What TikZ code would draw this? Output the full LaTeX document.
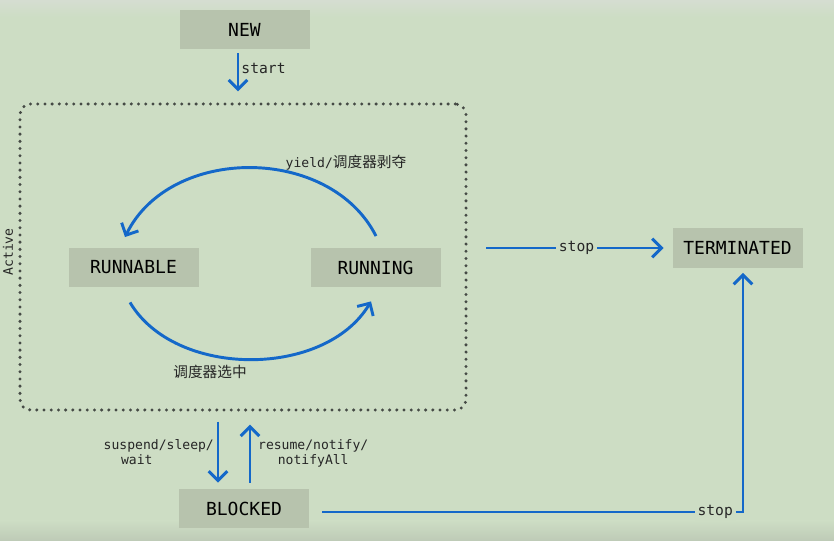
\documentclass[tikz,border=0pt]{standalone}
\usepackage{fontspec}
\setmonofont{DejaVu Sans Mono}
\newfontfamily\cjk{Noto Sans CJK SC}
\usetikzlibrary{arrows.meta}
\definecolor{bgreen}{HTML}{CDDDC4}
\definecolor{boxgray}{HTML}{B7C3AD}
\definecolor{flowblue}{HTML}{1468C9}
\definecolor{dotgray}{HTML}{454A45}
\begin{document}
\begin{tikzpicture}
    [x=0.75pt, y=0.75pt,
     state/.style={fill=boxgray, minimum width=97.5pt, minimum height=29.5pt, inner sep=0pt,
       font=\ttfamily\fontsize{13.5}{16}\selectfont},
     flow/.style={draw=flowblue, line width=2.2pt, -{Straight Barb[length=7pt,width=14pt]}},
     lbl/.style={font=\ttfamily\fontsize{9.8}{11.5}\selectfont, inner sep=2pt, text=black!85},
     stoplbl/.style={lbl, font=\ttfamily\fontsize{11}{13}\selectfont, fill=bgreen}]

    % background:
    \useasboundingbox (0,0) rectangle (834,541);
    \fill [bgreen] (0,0) rectangle (834,541);
    \shade [top color=bgreen!75!gray!60!white, bottom color=bgreen] (0,524) rectangle (834,541);
    \shade [top color=bgreen, bottom color=bgreen!80!gray] (0,0) rectangle (834,20);

    % active region:
    \node (active) at (243, 284) [draw=dotgray, line width=2.5pt, dash pattern=on 0pt off 5.4pt,
      line cap=round, rounded corners=8pt, minimum width=334.5pt, minimum height=229.5pt] {};
    \node (activelbl) at (8, 289) [lbl, rotate=90] {Active};

    % states:
    \node (new) at (244.5, 511.5) [state] {NEW};
    \node (runnable) at (133.5, 273.5) [state] {RUNNABLE};
    \node (running) at (375.5, 273.5) [state] {RUNNING};
    \node (terminated) at (737.5, 293) [state] {TERMINATED};
    \node (blocked) at (244, 32.5) [state] {BLOCKED};

    \coordinate (stopfrom) at (486, 293);

    % connect nodes:
    \draw [flow] ([shift={(-6.5,-4)}]new.south) -- node [lbl, pos=0.4, right, inner sep=1.5pt]
      {\fontsize{11}{13}\selectfont start} ([shift={(-5,11)}]active.north);

    \draw [flow] ([shift={(0.5,11.5)}]running.north) .. controls +(-46,91) and +(45,92)
      .. ([shift={(-8.5,10.5)}]runnable.north);
    \node (yieldlbl) at (346, 378) [lbl] {yield/{\cjk\fontsize{11}{13}\selectfont 调度器剥夺}};

    \draw [flow] ([shift={(-3.5,-15)}]runnable.south) .. controls +(45,-76) and +(-46,-77)
      .. ([shift={(-4.5,-14)}]running.south);
    \node (selectlbl) at (210, 169) [lbl] {\cjk\fontsize{11}{13}\selectfont 调度器选中};

    \draw [flow] (stopfrom) -- node [stoplbl, pos=0.51] {stop} ([xshift=-6.5]terminated.west);

    \draw [flow] ([shift={(-25,-10)}]active.south) -- node [lbl, left, align=left]
      {suspend/sleep/\\\hspace{13pt}wait} ([shift={(-26,6)}]blocked.north);
    \draw [flow] ([shift={(6,6)}]blocked.north) -- node [lbl, right, align=center, xshift=3pt]
      {resume/notify/\\notifyAll} ([shift={(7,-13)}]active.south);

    \draw [flow] ([shift={(13,-3.5)}]blocked.east) -| node [stoplbl, pos=0.467] {stop}
      ([shift={(5.5,-5)}]terminated.south);

  \end{tikzpicture}
\end{document}
